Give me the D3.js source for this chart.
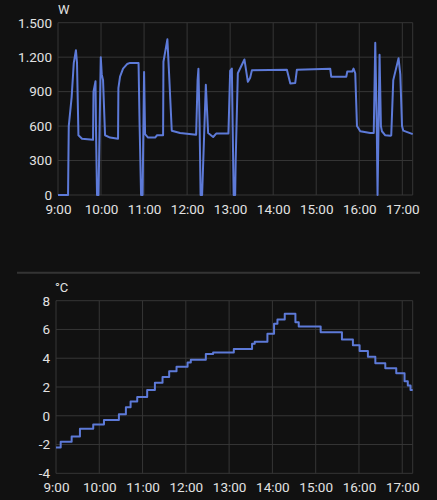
<!DOCTYPE html>
<html>
<head>
<meta charset="utf-8">
<script src="https://cdn.jsdelivr.net/npm/d3@7"></script>
<style>
  html, body { margin: 0; padding: 0; background: #111111; }
  svg { display: block; }
  text { font-family: Roboto, "Noto Sans", sans-serif; fill: #e2e2e2; }
  .grid line { stroke: #363636; stroke-width: 1; }
</style>
</head>
<body>
<svg class="canvas"></svg>
<script>
var width = 437,
    height = 500;

// minutes after 9:00
var hourTicks = [0, 60, 120, 180, 240, 300, 360, 420, 480];
var endMinute = 494.5;

var powerMinutes = [0, 14, 15, 19, 22, 25, 26.5, 28.5, 33.5, 48.8, 49.5, 52.3, 53, 54.4, 56.5, 59.6, 61, 62.8, 65.6, 72.6, 83.7,
  84.2, 86.5, 90.7, 96.3, 100.5, 112.3, 113.7, 115.8, 117.9, 120, 121.4, 125.6, 135.4, 138.1, 146.5, 147, 152.5, 154.9, 158.6,
  170.2, 192.6, 194.6, 195.8, 197.4, 198.8, 200.9, 206.1, 209.3, 216.3, 220.5, 237.6, 240, 242.4, 243.5, 244.9, 247, 247.7,
  250.7, 259.9, 264.7, 267.9, 270.3, 319.1, 323.9, 330.7, 333, 379.5, 380.9, 401.9, 403.3, 410.2, 412, 414.4, 416.8, 421.4,
  435.3, 440.2, 442.3, 444.4, 445.5, 448.3, 450.2, 451.6, 456.3, 463.2, 464.6, 467.4, 474.8, 477.2, 479.6, 481.4, 494.5];
var powerWatts = [0, 0, 600, 850, 1150, 1260, 1150, 520, 490, 480, 900, 990, 560, 0, 0, 1200, 1050, 1000, 520, 500, 490,
  930, 1030, 1100, 1140, 1150, 1150, 630, 0, 0, 1070, 530, 500, 500, 520, 520, 1160, 1355, 1050, 560,
  540, 525, 1000, 1100, 620, 0, 0, 960, 540, 505, 535, 535, 1080, 1100, 600, 0, 0, 300,
  1060, 1180, 985, 1020, 1085, 1090, 970, 975, 1090, 1100, 1030, 1030, 1075, 1075, 1100, 1060, 600, 555,
  540, 540, 1325, 600, 0, 1220, 600, 555, 520, 515, 520, 1000, 1190, 1050, 600, 560, 530];

var tempMinutes = [0, 6.5, 21.7, 33.2, 51.6, 66.5, 87.2, 96.9, 103.4, 112.6, 126.4, 137.1, 147.7, 156.9, 167.1, 182.4,
  186.9, 207.7, 217.8, 246.5, 271.8, 275.5, 293.1, 302.3, 307, 317.1, 331.9, 336.5, 366.9, 396.4, 411.6, 420.9,
  432.4, 442.7, 456.5, 471.7, 483.2, 487.7, 491.5, 494.5];
var tempValues = [-2.2, -1.8, -1.45, -0.9, -0.6, -0.3, 0.1, 0.6, 1.0, 1.3, 1.8, 2.3, 2.7, 3.1, 3.4, 3.7,
  3.9, 4.3, 4.4, 4.65, 5.0, 5.15, 5.7, 6.4, 6.7, 7.1, 6.5, 6.2, 5.8, 5.3, 4.9, 4.5,
  4.1, 3.65, 3.3, 2.95, 2.4, 2.1, 1.8, 1.8];

var powerTicks = [0, 300, 600, 900, 1200, 1500];
var tempTicks = [-4, -2, 0, 2, 4, 6, 8];

var svg = d3.select(".canvas")
          .attr("width", width)
          .attr("height", height);

var locale = d3.formatLocale({ decimal: ",", thousands: ".", grouping: [3], currency: ["", ""] });
var fmtPower = locale.format(",d");
var fmtHour = m => (9 + m / 60) + ":00";

function drawPanel(opt) {
  var x = d3.scaleLinear().domain([0, endMinute]).range([opt.left, opt.right]);
  var y = d3.scaleLinear().domain(opt.yDomain).range([opt.bottom, opt.top]);
  var g = svg.append("g");

  // vertical grid incl. right border
  g.append("g").attr("class", "grid")
    .selectAll("line").data(hourTicks.concat([endMinute]))
    .enter().append("line")
      .attr("x1", d => x(d)).attr("x2", d => x(d))
      .attr("y1", opt.top).attr("y2", opt.bottom);

  g.append("g").attr("class", "grid")
    .selectAll("line").data(opt.yTicks)
    .enter().append("line")
      .attr("x1", opt.left).attr("x2", opt.right)
      .attr("y1", d => y(d)).attr("y2", d => y(d));

  var xAxis = g.append("g")
    .attr("transform", "translate(0," + (opt.bottom + 6) + ")")
    .call(d3.axisBottom(x).tickValues(hourTicks).tickFormat(fmtHour).tickSize(0).tickPadding(0));
  var yAxis = g.append("g")
    .attr("transform", "translate(" + (opt.left - 6) + ",0)")
    .call(d3.axisLeft(y).tickValues(opt.yTicks).tickFormat(opt.fmt).tickSize(0).tickPadding(0));
  g.selectAll(".domain").remove();
  xAxis.selectAll("text").attr("dy", "0.95em");
  g.selectAll(".tick text").style("font-size", "13.5px").attr("fill", "#e2e2e2");

  g.append("text")
    .attr("x", opt.unitX).attr("y", opt.top - 9)
    .style("font-size", "13px")
    .text(opt.unit);

  var line = d3.line()
    .x((d, i) => x(opt.xs[i]))
    .y(d => y(d))
    .curve(opt.curve);

  g.append("path")
    .datum(opt.ys)
    .attr("fill", "none")
    .attr("stroke", "#5d7ad8")
    .attr("stroke-width", 2)
    .attr("stroke-linejoin", "round")
    .attr("d", line);
}

drawPanel({
  left: 58, right: 412.7, top: 22.7, bottom: 195,
  yDomain: [0, 1500], yTicks: powerTicks, fmt: fmtPower,
  unit: "W", unitX: 58,
  xs: powerMinutes, ys: powerWatts, curve: d3.curveLinear
});

drawPanel({
  left: 56, right: 412.7, top: 300.7, bottom: 473.3,
  yDomain: [-4, 8], yTicks: tempTicks, fmt: d => d,
  unit: "°C", unitX: 55,
  xs: tempMinutes, ys: tempValues, curve: d3.curveStepAfter
});

// separator between the two cards
svg.append("line")
  .attr("x1", 17).attr("x2", 420)
  .attr("y1", 272.7).attr("y2", 272.7)
  .attr("stroke", "#343434")
  .attr("stroke-width", 2);
</script>
</body>
</html>
